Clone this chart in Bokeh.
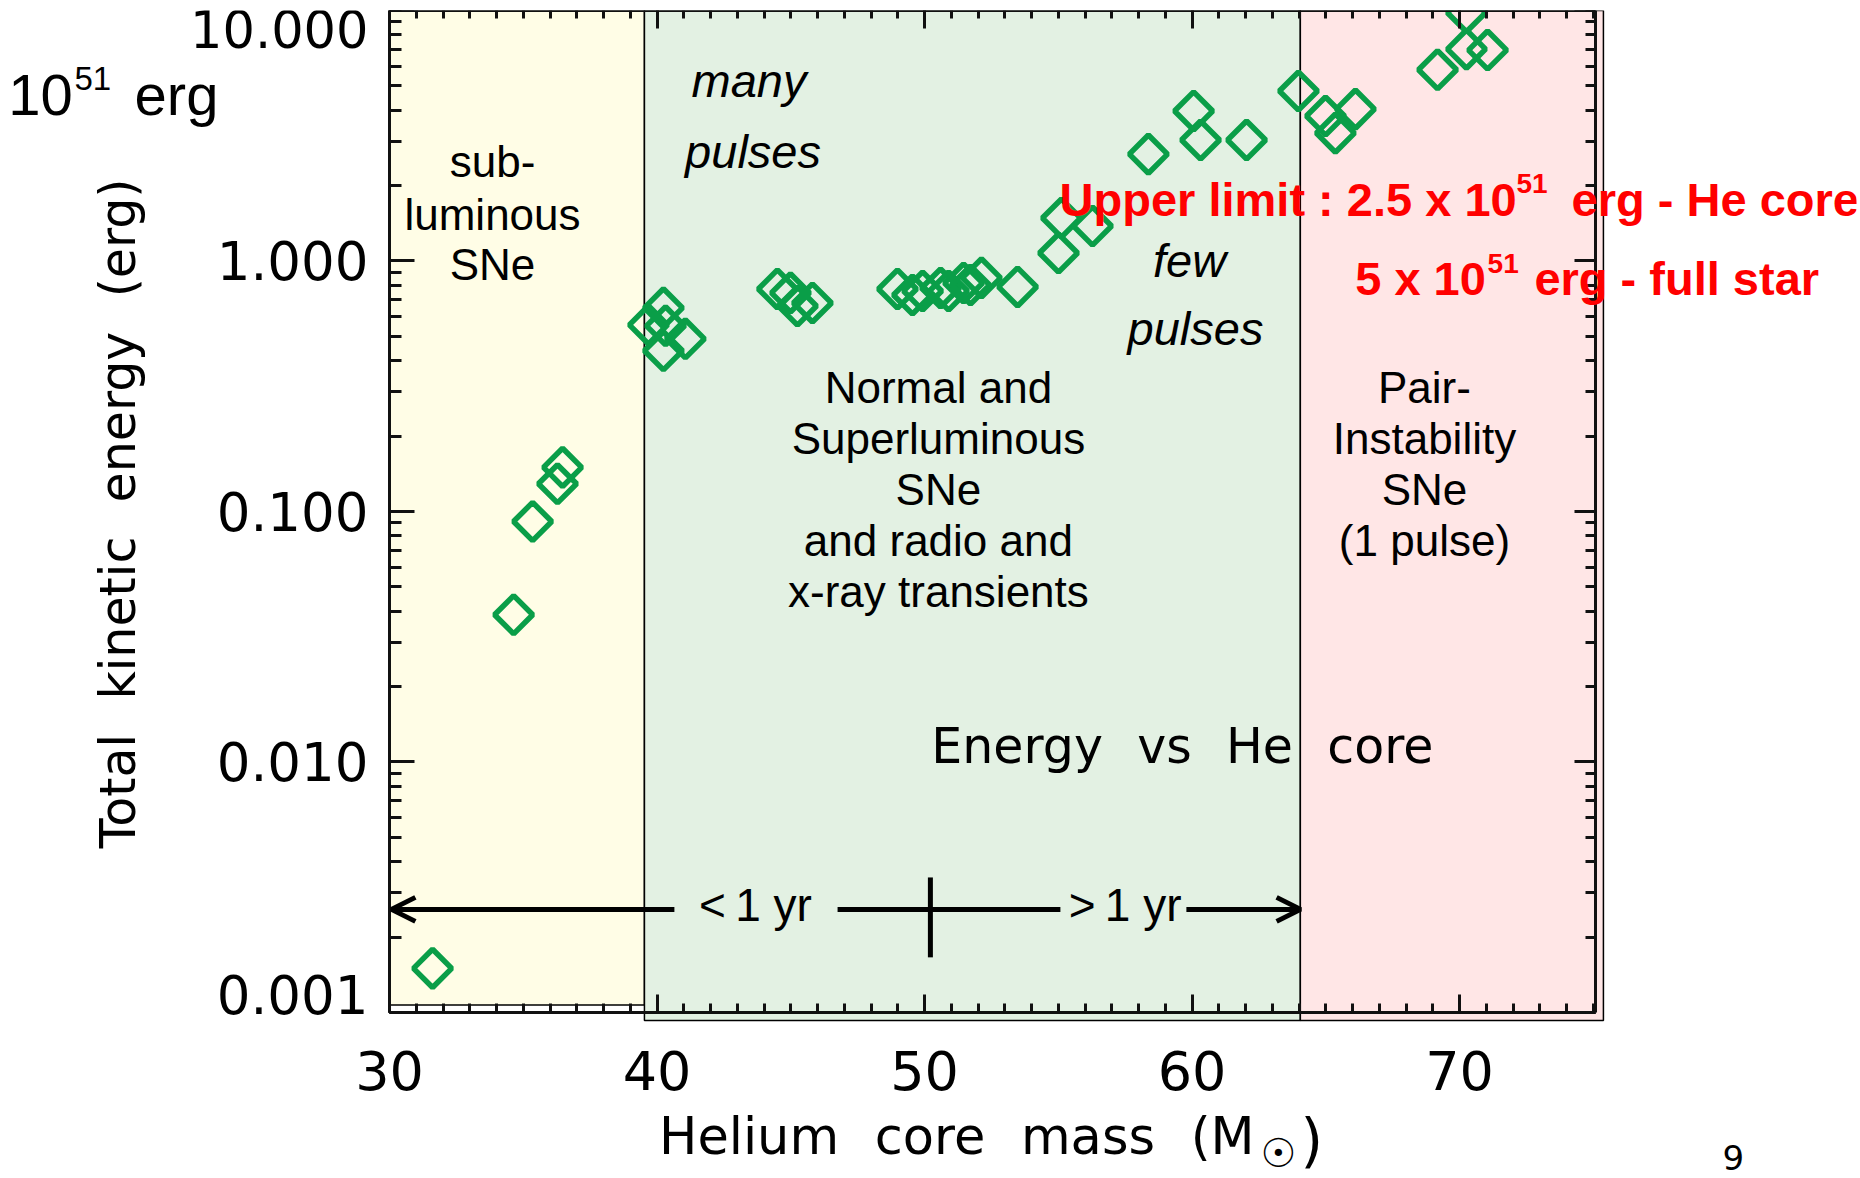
import numpy as np
from bokeh.plotting import figure
from bokeh.models import (ColumnDataSource, FixedTicker, LinearAxis, LogAxis,
                          Label, Arrow, OpenHead, Range1d)
from bokeh.embed import file_html
from bokeh.resources import INLINE

# Helium core mass (Msun) of each pulsational pair-instability model
he_core_mass = [31.61, 34.64, 35.35, 36.28, 36.47,
                39.68, 40.24, 40.32, 40.24, 41.06,
                44.50, 44.99, 45.25, 45.81,
                48.99, 49.55, 49.93, 50.60, 50.90, 51.46, 51.72, 52.13,
                53.48, 55.01, 55.12, 56.28,
                58.37, 60.06, 60.32, 62.04, 63.98,
                64.99, 66.11, 65.36,
                69.18, 70.26, 71.05, 70.26]
# Total kinetic energy of the ejected pulses, in units of 1e51 erg
kinetic_energy = [0.0015, 0.0387, 0.0912, 0.129, 0.150,
                  0.556, 0.650, 0.551, 0.438, 0.489,
                  0.773, 0.746, 0.661, 0.680,
                  0.773, 0.732, 0.759, 0.780, 0.759, 0.817, 0.802, 0.856,
                  0.788, 1.076, 1.484, 1.379,
                  2.67, 3.97, 3.04, 3.04, 4.77,
                  3.79, 4.04, 3.24,
                  5.80, 7.01, 6.95, 9.80]

# Plotted window of the diagram
mass_lim = (30.0, 75.1)
energy_lim = (0.001, 10.0)

# Regime boxes: sub-luminous / pulsational / pair-instability
region_left = [30.0, 39.53, 64.05]
region_right = [39.53, 64.05, 75.38]
region_bottom = [0.00107, 0.00093, 0.00093]
region_top = [10.0, 10.0, 10.0]
region_colors = ["#FFFDE6", "#E3F1E3", "#FFE6E6"]

x_ticks = [30, 40, 50, 60, 70]
x_tick_text = ["30", "40", "50", "60", "70"]
x_minor = list(range(30, 76))
y_ticks = [0.001, 0.01, 0.1, 1.0, 10.0]
y_tick_text = ["0.001", "0.010", "0.100", "1.000", "10.000"]
y_minor = [m * 10.0 ** d for d in range(-3, 1) for m in range(1, 10)] + [10.0]

# Pulse duration split (< 1 yr / > 1 yr)
split_mass = 50.22
arrow_level = 0.00258

IDL_FONT = "DejaVu Sans"
SLIDE_FONT = "Liberation Sans"
GAP = "\u2002\u2009"
INK = "#111111"
GREEN = "#0A9E48"
RED = "#FF0000"

# The canvas is one large frame so the slide notes in the margins stay visible;
# the four axes are pinned to the edges of the mass/energy window.
p = figure(width=1860, height=1178,
           x_range=Range1d(15.607, 84.841), y_range=Range1d(0.00022554, 10.0),
           y_axis_type="log", x_axis_location=None, y_axis_location=None,
           output_backend="svg", toolbar_location=None,
           min_border_left=4, min_border_right=4, min_border_top=10,
           min_border_bottom=4, background_fill_color="white",
           border_fill_color="white")
p.outline_line_color = None
p.grid.visible = False

p.quad(left=region_left, right=region_right, bottom=region_bottom, top=region_top,
       fill_color=region_colors, line_color="black", line_width=1.5)


def make_axis(cls, ticks, minor, loc, bounds, tick_major, tick_minor):
    ax = cls(ticker=FixedTicker(ticks=ticks, minor_ticks=minor),
             fixed_location=loc, bounds=bounds)
    ax.axis_line_color = INK
    ax.axis_line_width = 3
    ax.major_tick_in = tick_major
    ax.major_tick_out = 0
    ax.minor_tick_in = tick_minor
    ax.minor_tick_out = 0
    ax.major_tick_line_color = INK
    ax.minor_tick_line_color = INK
    ax.major_tick_line_width = 3
    ax.minor_tick_line_width = 3
    # tick texts are set as labels below
    ax.major_label_overrides = {t: " " for t in ticks}
    ax.major_label_text_font_size = "1px"
    ax.major_label_text_color = None
    ax.major_label_standoff = 0
    return ax


p.add_layout(make_axis(LinearAxis, x_ticks, x_minor, energy_lim[0], mass_lim, 18, 9), "below")
p.add_layout(make_axis(LinearAxis, x_ticks, x_minor, energy_lim[1], mass_lim, 18, 8), "above")
p.add_layout(make_axis(LogAxis, y_ticks, y_minor, mass_lim[0], energy_lim, 25, 12), "left")
p.add_layout(make_axis(LogAxis, y_ticks, y_minor, mass_lim[1], energy_lim, 21, 10), "right")

# models
src = ColumnDataSource(dict(mass=he_core_mass, energy=kinetic_energy))
p.scatter("mass", "energy", source=src, marker="square", angle=np.pi / 4,
          size=27, fill_color=None, line_color=GREEN, line_width=5.5)

# pulse-duration arrow
p.add_layout(Arrow(end=OpenHead(size=24, line_width=5, line_color="black"),
                   x_start=40.65, y_start=arrow_level, x_end=30.07, y_end=arrow_level,
                   line_width=5, line_color="black"))
p.add_layout(Arrow(end=OpenHead(size=24, line_width=5, line_color="black"),
                   x_start=59.79, y_start=arrow_level, x_end=64.06, y_end=arrow_level,
                   line_width=5, line_color="black"))
p.segment(x0=[46.75], y0=[arrow_level], x1=[55.08], y1=[arrow_level],
          line_width=5, line_color="black")
p.segment(x0=[split_mass], y0=[0.00166], x1=[split_mass], y1=[0.00346],
          line_width=5, line_color="black")


def note(text, x, y, size, font=SLIDE_FONT, style="normal", color="black",
         align="center", angle=0.0):
    p.add_layout(Label(x=x, y=y, text=text, text_font=font, text_font_size=size,
                       text_font_style=style, text_color=color, text_align=align,
                       text_baseline="middle", angle=angle))


# tick texts
for t, txt in zip(x_ticks, x_tick_text):
    note(txt, t, 0.000587, "54px", font=IDL_FONT)
for t, txt in zip(y_ticks[1:-1], y_tick_text[1:-1]):
    note(txt, 29.215, t, "53px", font=IDL_FONT, align="right")
note(y_tick_text[-1], 29.215, 8.45, "51px", font=IDL_FONT, align="right")
note(y_tick_text[0], 29.215, 0.00118, "53px", font=IDL_FONT, align="right")

# axis titles
note(GAP.join(["Total", "kinetic", "energy", "(erg)"]), 19.87, 0.0982, "49px",
     font=IDL_FONT, angle=np.pi / 2)
note(GAP.join(["Helium", "core", "mass", "(M"]), 62.34, 0.00032, "51px",
     font=IDL_FONT, align="right")
note("\u2609", 63.23, 0.000274, "40px", font=IDL_FONT)
note(")", 64.06, 0.000308, "58px", font=IDL_FONT, align="left")

# regime descriptions
for txt, yy in zip(["sub-", "luminous", "SNe"], [2.496, 1.533, 0.9683]):
    note(txt, 33.85, yy, "44px")
for txt, yy in zip(["Normal and", "Superluminous", "SNe", "and radio and",
                    "x-ray transients"], [0.3126, 0.1956, 0.1224, 0.07661, 0.04793]):
    note(txt, 50.52, yy, "44px")
for txt, yy in zip(["Pair-", "Instability", "SNe", "(1 pulse)"],
                   [0.3126, 0.1956, 0.1224, 0.07661]):
    note(txt, 68.69, yy, "44px")

note("many", 43.44, 5.255, "47px", style="italic")
note("pulses", 43.59, 2.736, "47px", style="italic")
note("few", 59.91, 1.005, "47px", style="italic")
note("pulses", 60.13, 0.5377, "47px", style="italic")

note("<\u20091 yr", 43.68, 0.002674, "46px")
note(">\u20091 yr", 57.50, 0.002674, "46px")

note(GAP.join(["Energy", "vs", "He", "core"]), 59.64, 0.01153, "49px", font=IDL_FONT)

# energy unit in the corner
note("10", 15.75, 4.619, "58px", align="left")
note("51", 18.22, 5.352, "33px", align="left")
note("erg", 20.47, 4.619, "58px", align="left")

# upper limits
note("Upper limit : 2.5 x 10", 55.05, 1.760, "47px", style="bold", color=RED, align="left")
note("51", 72.13, 2.039, "28px", style="bold", color=RED, align="left")
note("erg - He core", 74.19, 1.760, "47px", style="bold", color=RED, align="left")
note("5 x 10", 66.10, 0.8514, "47px", style="bold", color=RED, align="left")
note("51", 71.05, 0.9773, "28px", style="bold", color=RED, align="left")
note("erg - full star", 72.80, 0.8514, "47px", style="bold", color=RED, align="left")

note("9", 80.24, 0.000264, "34px", font=IDL_FONT)

open("out.html", "w").write(file_html(p, INLINE))
